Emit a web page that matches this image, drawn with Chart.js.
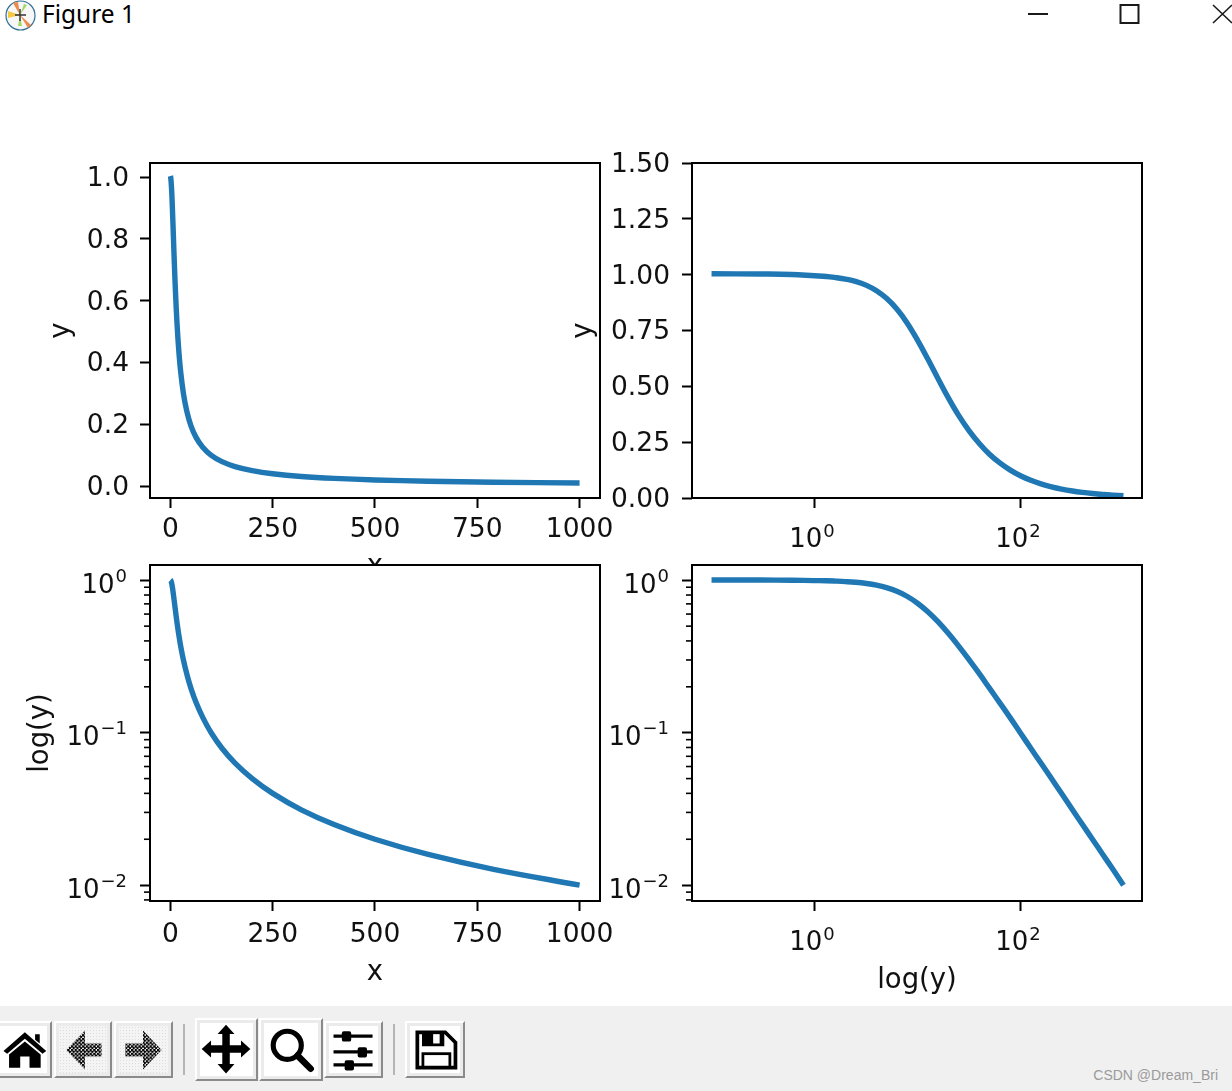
<!DOCTYPE html>
<html>
<head>
<meta charset="utf-8">
<title>Figure 1</title>
<script src="https://cdn.jsdelivr.net/npm/chart.js"></script>
<style>
  html, body { margin: 0; padding: 0; background: #fff; width: 1232px; height: 1091px; overflow: hidden; }
  canvas { position: absolute; left: 0; top: 0; filter: blur(0.35px); }
  #caption { position: absolute; left: 42px; top: -3px; font: 24.5px "Noto Sans", sans-serif; color: #000; }
  .chrome { position: absolute; }
  #toolbar { position: absolute; left: 0; top: 1006px; width: 1232px; height: 85px; background: #f0f0f0; }
  .btn { position: absolute; box-sizing: border-box; background: #fff; border: 2px solid; border-color: #fff #8a8a8a #8a8a8a #fff; box-shadow: inset 0 0 0 3px #ebebeb; }
  .btn svg { position: absolute; left: 0; top: 0; width: 100%; height: 100%; }
  .off { background-color: #f4f4f4; background-image: radial-gradient(#ddd 0.7px, transparent 0.8px); background-size: 3px 3px; }
  .sep { position: absolute; top: 18px; width: 2px; height: 51px; background: #b5b5b5; }
  #mark { position: absolute; right: 14px; top: 61px; font: 14px "Liberation Sans", sans-serif; color: #9a9a9a; }
</style>
</head>
<body>
<svg class="chrome" style="left:4px;top:0" width="33" height="31" viewBox="0 0 33 31">
  <circle cx="16.5" cy="15.5" r="14.5" fill="#f7f7f7" stroke="#2f6f95" stroke-width="1.2"/>
  <path d="M16 15 L9 3 L14 2 Z" fill="#f08a4b"/>
  <path d="M16 15 L27 25 L24 28 Z" fill="#f08a4b"/>
  <path d="M16 15 L4 11 L4 18 Z" fill="#f4c842"/>
  <path d="M16 15 L23 5 L20 4 Z" fill="#a5d66a"/>
  <path d="M16 15 L14 26 L18 26 Z" fill="#a5d66a"/>
  <path d="M16 9 V21 M11 15 H22" stroke="#333" stroke-width="1.4"/>
</svg>
<div id="caption">Figure 1</div>
<svg class="chrome" style="left:1020px;top:0" width="212" height="30" viewBox="0 0 212 30">
  <path d="M8 14 H28" stroke="#1a1a1a" stroke-width="2"/>
  <rect x="100.5" y="5" width="18" height="18" fill="none" stroke="#1a1a1a" stroke-width="2"/>
  <path d="M193 5 L212 23 M212 5 L193 23" stroke="#1a1a1a" stroke-width="1.6"/>
</svg>

<canvas id="topLeft" width="1232" height="1091"></canvas>
<canvas id="topRight" width="1232" height="1091"></canvas>
<canvas id="bottomLeft" width="1232" height="1091"></canvas>
<canvas id="bottomRight" width="1232" height="1091"></canvas>

<div id="toolbar">
  <div class="btn" style="left:-6px;top:15px;width:58px;height:57px"><svg viewBox="0 0 58 57"><path d="M8 30 L31 10 L54 30 L50 33 L31 17 L12 33 Z M14 34 L31 20 L48 34 V48 H36 V36 H26 V48 H14 Z M42 12 H47 V22 L42 18 Z" fill="#000"/></svg></div>
  <div class="btn off" style="left:54px;top:15px;width:58px;height:57px"><svg viewBox="0 0 58 57"><defs><pattern id="chk" width="4" height="4" patternUnits="userSpaceOnUse"><rect width="2.6" height="2.6" fill="#000"/><rect x="2" y="2" width="2" height="2" fill="#000"/></pattern></defs><path d="M11 29 L31 8 V22 H49 V36 H31 V50 Z" fill="url(#chk)"/></svg></div>
  <div class="btn off" style="left:114px;top:15px;width:59px;height:57px"><svg viewBox="0 0 59 57"><path d="M49 29 L29 8 V22 H10 V36 H29 V50 Z" fill="url(#chk)"/></svg></div>
  <div class="sep" style="left:183px"></div>
  <div class="btn" style="left:195px;top:12px;width:63px;height:63px"><svg viewBox="0 0 63 63"><path d="M31 5 L40 15 H35 V27 H47 V22 L57 31 L47 40 V35 H35 V47 H40 L31 57 L22 47 H27 V35 H15 V40 L5 31 L15 22 V27 H27 V15 H22 Z" fill="#000"/></svg></div>
  <div class="btn" style="left:259px;top:12px;width:64px;height:63px"><svg viewBox="0 0 64 63"><circle cx="28" cy="27" r="15" fill="none" stroke="#000" stroke-width="5.5"/><path d="M39 38 L53 52" stroke="#000" stroke-width="7" stroke-linecap="round"/></svg></div>
  <div class="btn" style="left:324px;top:15px;width:59px;height:57px"><svg viewBox="0 0 59 57"><path d="M8 14 H50 M8 31 H50 M8 45 H50" stroke="#000" stroke-width="3.5"/><rect x="17" y="9" width="10" height="11" rx="2" fill="#000"/><rect x="34" y="26" width="10" height="11" rx="2" fill="#000"/><rect x="20" y="40" width="10" height="11" rx="2" fill="#000"/></svg></div>
  <div class="sep" style="left:393px"></div>
  <div class="btn" style="left:405px;top:15px;width:60px;height:57px"><svg viewBox="0 0 60 57"><path d="M11 10 H41 L52 21 V48 H11 Z" fill="none" stroke="#000" stroke-width="4"/><path d="M16 10 H40 V25 H16 Z" fill="#000"/><rect x="28" y="12" width="7" height="10" fill="#fff"/><rect x="17" y="33" width="29" height="15" fill="none" stroke="#000" stroke-width="3"/></svg></div>
  <div id="mark">CSDN @Dream_Bri</div>
</div>

<script>
'use strict';

const xValues = [0.1, 0.3, 0.6, 1, 1.3, 1.6, 2, 2.5, 3.2, 4, 5, 6.3, 7.9, 10, 12.6, 15.8, 20, 25, 32, 40, 50, 63, 79, 100, 126, 158, 200, 250, 320, 400, 500, 630, 790, 1000];
const yValues = [1.004, 1.003, 1.001, 0.995, 0.992, 0.987, 0.98, 0.97, 0.952, 0.928, 0.894, 0.846, 0.785, 0.707, 0.622, 0.535, 0.447, 0.371, 0.298, 0.243, 0.196, 0.157, 0.126, 0.0995, 0.0791, 0.0632, 0.05, 0.04, 0.0312, 0.025, 0.02, 0.0159, 0.0127, 0.01];

const linearXTicks = [0, 250, 500, 750, 1000];
const linearXLabels = ['0', '250', '500', '750', '1000'];
const linearYTicks = [0, 0.2, 0.4, 0.6, 0.8, 1.0];
const linearYLabels = ['0.0', '0.2', '0.4', '0.6', '0.8', '1.0'];
const wideYTicks = [0, 0.25, 0.5, 0.75, 1, 1.25, 1.5];
const wideYLabels = ['0.00', '0.25', '0.50', '0.75', '1.00', '1.25', '1.50'];
const logXTicks = [1, 100];
const logXExponents = ['0', '2'];
const logYTicks = [0.01, 0.1, 1];
const logYExponents = ['\u22122', '\u22121', '0'];
const logYMinor = [0.008, 0.009, 0.02, 0.03, 0.04, 0.05, 0.06, 0.07, 0.08, 0.09, 0.2, 0.3, 0.4, 0.5, 0.6, 0.7, 0.8, 0.9];

const FONT = 'DejaVu Sans';
const TEXT = '#111';
const BASE_FONT = '26px "DejaVu Sans"';
const EXP_FONT = '18px "DejaVu Sans"';

// 10 with a raised exponent, canvas has no superscript of its own
function drawPowerX(ctx, px, bottom, exp) {
  ctx.font = BASE_FONT;
  const w10 = ctx.measureText('10').width;
  ctx.font = EXP_FONT;
  const wExp = ctx.measureText(exp).width;
  const start = px - (w10 + wExp) / 2 - 3;
  ctx.textAlign = 'left';
  ctx.fillText(exp, start + w10 + 1, bottom + 38.5);
  ctx.font = BASE_FONT;
  ctx.fillText('10', start, bottom + 49);
}

function drawPowerY(ctx, left, py, exp) {
  const edge = left - 23;
  ctx.textAlign = 'right';
  ctx.font = EXP_FONT;
  const wExp = ctx.measureText(exp).width;
  ctx.fillText(exp, edge, py + 1.5);
  ctx.font = BASE_FONT;
  ctx.fillText('10', edge - wExp - 1, py + 12.5);
}

// white axes face, box round it, short minor ticks, log tick labels
const frame = {
  id: 'frame',
  beforeDraw(chart) {
    const a = chart.chartArea;
    chart.ctx.fillStyle = '#fff';
    chart.ctx.fillRect(a.left, a.top, a.width, a.height);
  },
  afterDraw(chart) {
    const a = chart.chartArea;
    const ctx = chart.ctx;
    const sx = chart.scales.x;
    const sy = chart.scales.y;
    ctx.save();
    ctx.strokeStyle = '#000';
    ctx.fillStyle = TEXT;
    ctx.textBaseline = 'alphabetic';
    ctx.lineWidth = 2;
    ctx.strokeRect(a.left, a.top, a.width, a.height);
    if (sy.type === 'logarithmic') {
      ctx.lineWidth = 1.6;
      logYMinor.forEach(v => {
        const py = sy.getPixelForValue(v);
        ctx.beginPath();
        ctx.moveTo(a.left - 6, py);
        ctx.lineTo(a.left, py);
        ctx.stroke();
      });
      logYTicks.forEach((v, i) => drawPowerY(ctx, a.left, sy.getPixelForValue(v), logYExponents[i]));
    }
    if (sx.type === 'logarithmic') {
      logXTicks.forEach((v, i) => drawPowerX(ctx, sx.getPixelForValue(v), a.bottom, logXExponents[i]));
    }
    ctx.restore();
  }
};

function axis(o) {
  const horizontal = !!o.size.h;
  const out = {
    type: o.type,
    min: o.min,
    max: o.max,
    border: { display: false },
    grid: { drawOnChartArea: false, drawTicks: true, tickLength: 10, tickColor: '#000', tickWidth: 2 },
    afterBuildTicks: s => { s.ticks = o.ticks.map(v => ({ value: v })); },
    afterFit: s => { if (o.size.w) s.width = o.size.w; if (o.size.h) s.height = o.size.h; },
    ticks: {
      display: !!o.labels,
      autoSkip: false,
      maxRotation: 0,
      padding: o.pad,
      labelOffset: horizontal ? 0 : 2,
      color: TEXT,
      font: { family: FONT, size: 26.5 },
      callback: (v, i) => o.labels ? o.labels[i] : ''
    }
  };
  if (o.title) {
    out.title = { display: true, text: o.title, color: TEXT, padding: 0, font: { family: FONT, size: 27.5 } };
  }
  return out;
}

function panel(id, box, xAxis, yAxis) {
  const points = xValues.map((x, i) => ({ x: x, y: yValues[i] }));
  return new Chart(document.getElementById(id), {
    type: 'line',
    data: {
      datasets: [{
        data: points,
        borderColor: '#1f77b4',
        borderWidth: 5.4,
        borderJoinStyle: 'round',
        pointRadius: 0,
        tension: 0.4,
        fill: false
      }]
    },
    options: {
      responsive: false,
      animation: false,
      events: [],
      layout: {
        padding: {
          left: box.left - yAxis.size.w,
          top: box.top,
          right: 1232 - box.right,
          bottom: 1091 - box.bottom - xAxis.size.h
        }
      },
      plugins: { legend: { display: false }, tooltip: { enabled: false } },
      scales: { x: axis(xAxis), y: axis(yAxis) }
    },
    plugins: [frame]
  });
}

const linX = { type: 'linear', min: -49.9, max: 1049.9, ticks: linearXTicks, labels: linearXLabels };
const logX = { type: 'logarithmic', min: 0.0646, max: 1514, ticks: logXTicks };
const logY = { type: 'logarithmic', min: 0.00787, max: 1.259, ticks: logYTicks };

panel('topLeft', { left: 150, top: 163, right: 600, bottom: 498 },
  Object.assign({}, linX, { title: 'x', size: { h: 85 }, pad: 6 }),
  { type: 'linear', min: -0.0385, max: 1.046, ticks: linearYTicks, labels: linearYLabels, title: 'y', size: { w: 105 }, pad: 11 });

panel('topRight', { left: 692, top: 163, right: 1142, bottom: 498 },
  Object.assign({}, logX, { size: { h: 83 } }),
  { type: 'linear', min: 0, max: 1.5, ticks: wideYTicks, labels: wideYLabels, title: 'y', size: { w: 125 }, pad: 12 });

panel('bottomLeft', { left: 150, top: 565, right: 600, bottom: 901 },
  Object.assign({}, linX, { title: 'x', size: { h: 88 }, pad: 8 }),
  Object.assign({}, logY, { title: 'log(y)', size: { w: 126 } }));

panel('bottomRight', { left: 692, top: 565, right: 1142, bottom: 901 },
  Object.assign({}, logX, { title: 'log(y)', size: { h: 96 } }),
  Object.assign({}, logY, { size: { w: 123 } }));
</script>
</body>
</html>
